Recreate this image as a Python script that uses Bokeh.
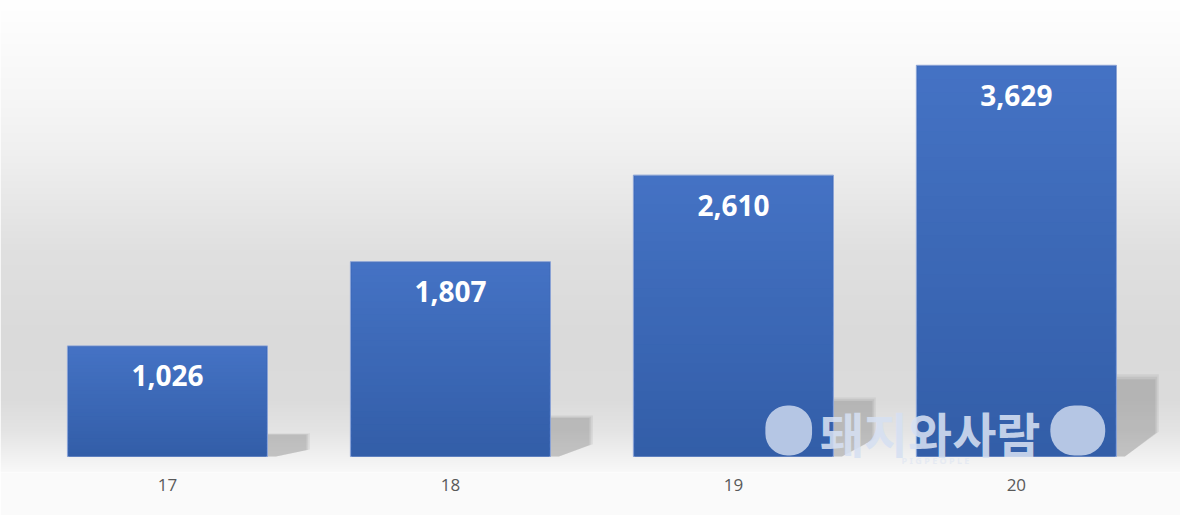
import numpy as np
from bokeh.plotting import figure
from bokeh.models import FixedTicker, Range1d, Label, BoxAnnotation
from bokeh.core.properties import value
from bokeh.embed import file_html
from bokeh.resources import INLINE

# ---- data ----
categories = ["17", "18", "19", "20"]
values = [1026, 1807, 2610, 3629]
labels = [f"{v:,}" for v in values]

# ---- layout constants ----
W, H = 1180, 515
BOTTOM = 43
FRAME_H = H - BOTTOM
x_start, x_end = -0.590, 3.580
y_start, y_end = -148.4, 4230.0
bar_w = 0.707

p = figure(width=W, height=H, output_backend="svg", toolbar_location=None,
           x_range=Range1d(x_start, x_end), y_range=Range1d(y_start, y_end))
p.min_border_left = 0
p.min_border_right = 0
p.min_border_top = 0
p.min_border_bottom = BOTTOM
p.border_fill_color = "#fafafa"
p.outline_line_color = None
p.xgrid.visible = False
p.ygrid.visible = False
p.yaxis.visible = False

# background vertical gradient
page_y = (FRAME_H - 1 - np.arange(FRAME_H)) + 0.5
stops_y = [0, 100, 150, 250, 340, 400, 430, 450, 472]
stops_v = [255, 246, 240, 224, 218, 220, 228, 238, 249]
g = np.interp(page_y, stops_y, stops_v).astype(np.uint8)
img = np.empty((FRAME_H, 2), dtype=np.uint32)
view = img.view(dtype=np.uint8).reshape((FRAME_H, 2, 4))
view[:, :, 0] = g[:, None]
view[:, :, 1] = g[:, None]
view[:, :, 2] = g[:, None]
view[:, :, 3] = 255
p.image_rgba(image=[img], x=x_start, y=y_start, dw=x_end - x_start, dh=y_end - y_start)

idx = list(range(len(categories)))

# shadows (derived from bar values)
for grow, alpha in [(1.0, 0.10), (0.8, 0.13), (0.6, 0.16)]:
    xs, ys = [], []
    for i, v in zip(idx, values):
        xr = i + bar_w / 2
        hs = 0.21 * v * (0.85 + 0.15 * grow)
        dx = 0.15 * (0.8 + 0.2 * grow)
        xs.append([xr, xr, xr + dx, xr + dx, xr + 0.03])
        ys.append([0, hs, hs, 0.3 * hs, 0])
    p.patches(xs, ys, fill_color="#6e6e6e", fill_alpha=alpha, line_color=None)

# bars
p.vbar(x=idx, top=values, bottom=0, width=bar_w, fill_color="#3d69b7",
       line_color="#8aa3d6", line_width=1)

# gradient slices over bars
K = 30
top_c = np.array([0x45, 0x73, 0xC5])
bot_c = np.array([0x33, 0x5E, 0xA8])
inset_x = 0.004
inset_y = 9.0
ql, qr, qb, qt, qc = [], [], [], [], []
for i, v in zip(idx, values):
    hv = v - inset_y
    step = hv / K
    for k in range(K):
        f = (k + 0.5) / K
        c = (bot_c + (top_c - bot_c) * f).astype(int)
        ql.append(i - bar_w / 2 + inset_x)
        qr.append(i + bar_w / 2 - inset_x)
        qb.append(k * step)
        qt.append(min(hv, (k + 1.4) * step))
        qc.append("#%02x%02x%02x" % tuple(c))
p.quad(left=ql, right=qr, bottom=qb, top=qt, fill_color=qc, line_color=None)

# value labels
p.text(x=idx, y=values, text=labels, text_color="white", text_font=value("Open Sans"),
       text_font_style="bold", text_font_size="28px", text_align="center",
       text_baseline="middle", y_offset=30)

# x axis
p.xaxis.ticker = FixedTicker(ticks=idx)
p.xaxis.major_label_overrides = {i: c for i, c in zip(idx, categories)}
p.xaxis.axis_line_color = None
p.xaxis.major_tick_line_color = None
p.xaxis.minor_tick_line_color = None
p.xaxis.major_tick_out = 0
p.xaxis.major_tick_in = 0
p.xaxis.major_label_standoff = 6
p.xaxis.major_label_text_font = "Open Sans"
p.xaxis.major_label_text_font_size = "17px"
p.xaxis.major_label_text_color = "#595959"

# watermark
wm_fill = "#d6e0f2"
p.add_layout(BoxAnnotation(left=2.113, right=2.278, bottom=9, top=473,
                           fill_color=wm_fill, fill_alpha=0.8, line_color=None,
                           border_radius=22))
p.add_layout(BoxAnnotation(left=3.120, right=3.314, bottom=9, top=473,
                           fill_color=wm_fill, fill_alpha=0.8, line_color=None,
                           border_radius=24))
p.add_layout(Label(x=2.695, y=223, text="돼지와사람", text_font="Noto Sans CJK KR",
                   text_font_style="bold", text_font_size="48px", text_color=wm_fill,
                   text_alpha=0.88, text_align="center", text_baseline="middle"))
p.add_layout(Label(x=2.714, y=-37, text="P I G P E O P L E", text_font="Noto Sans",
                   text_font_style="bold", text_font_size="9px", text_color="#e4e9f2",
                   text_alpha=0.9, text_align="center", text_baseline="middle"))

open("out.html", "w").write(file_html(p, INLINE))
